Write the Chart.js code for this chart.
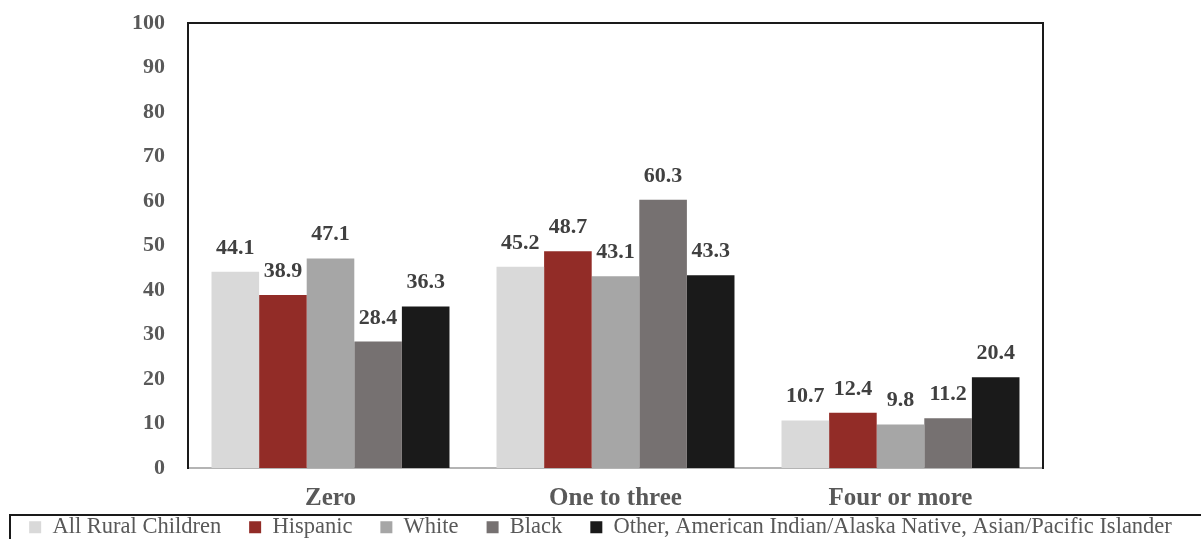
<!DOCTYPE html>
<html>
<head>
<meta charset="utf-8">
<script src="https://cdn.jsdelivr.net/npm/chart.js@4"></script>
<style>
  html, body { margin: 0; padding: 0; background: #fff; }
  #wrap { width: 1201px; height: 539px; }
</style>
</head>
<body>
<div id="wrap"><canvas id="myChart" width="1201" height="539"></canvas></div>
<script>
const categories = ['Zero', 'One to three', 'Four or more'];
const allRural = [44.1, 45.2, 10.7];
const hispanic = [38.9, 48.7, 12.4];
const white = [47.1, 43.1, 9.8];
const black = [28.4, 60.3, 11.2];
const other = [36.3, 43.3, 20.4];
const yTicks = [0, 10, 20, 30, 40, 50, 60, 70, 80, 90, 100];

const serif = "'Liberation Serif', 'Times New Roman', serif";
const legendPad = 28;

// value labels above each bar
const barLabels = {
    id: 'barLabels',
    afterDatasetsDraw(chart) {
        const ctx = chart.ctx;
        ctx.save();
        ctx.font = 'bold 22px ' + serif;
        ctx.fillStyle = '#404040';
        ctx.textAlign = 'center';
        ctx.textBaseline = 'alphabetic';
        chart.data.datasets.forEach((ds, i) => {
            chart.getDatasetMeta(i).data.forEach((bar, j) => {
                ctx.fillText(ds.data[j].toFixed(1), bar.x, bar.y - 18);
            });
        });
        ctx.restore();
    }
};

// legend: keep wide spacing between items but a short box
const tightLegend = {
    id: 'tightLegend',
    afterInit(chart) {
        const lg = chart.legend;
        const fit = lg.fit;
        const draw = lg.draw;
        lg.fit = function () {
            fit.call(this);
            this.height = 27;
        };
        lg.draw = function () {
            const top = this.top;
            this.top = top + 4 - legendPad;
            draw.call(this);
            this.top = top;
        };
    }
};

// top edge of plot frame + box round the legend
const frame = {
    id: 'frame',
    afterDraw(chart) {
        const ctx = chart.ctx;
        const a = chart.chartArea;
        ctx.save();
        ctx.strokeStyle = '#1a1a1a';
        ctx.lineWidth = 2;
        ctx.beginPath();
        ctx.moveTo(a.left, a.top);
        ctx.lineTo(a.right, a.top);
        ctx.stroke();
        ctx.strokeRect(10, chart.legend.top + 3, 1210, 40);
        ctx.restore();
    }
};

new Chart(document.getElementById('myChart').getContext('2d'), {
    type: 'bar',
    data: {
        labels: categories,
        datasets: [
            { label: 'All Rural Children', data: allRural, backgroundColor: '#d9d9d9' },
            { label: 'Hispanic', data: hispanic, backgroundColor: '#922c27' },
            { label: 'White', data: white, backgroundColor: '#a6a6a6' },
            { label: 'Black', data: black, backgroundColor: '#767171' },
            { label: 'Other, American Indian/Alaska Native, Asian/Pacific Islander', data: other, backgroundColor: '#1a1a1a' }
        ]
    },
    options: {
        responsive: false,
        animation: false,
        categoryPercentage: 0.835,
        barPercentage: 1.0,
        borderWidth: 0,
        layout: { padding: { top: 23, left: 0, right: 0, bottom: 0 } },
        scales: {
            x: {
                grid: { display: false, drawTicks: false },
                border: { display: true, color: '#b4b4b4', width: 2 },
                ticks: { font: { family: serif, size: 25, weight: 700 }, color: '#595959', padding: 16 },
                afterFit(scale) { scale.height = 44; }
            },
            y: {
                min: 0,
                max: 100,
                afterBuildTicks(scale) { scale.ticks = yTicks.map(v => ({ value: v })); },
                grid: { display: false, drawTicks: false },
                border: { display: true, color: '#1a1a1a', width: 2 },
                ticks: { font: { family: serif, size: 22, weight: 'bold' }, color: '#595959', padding: 23 },
                afterFit(scale) {
                    scale.width = 188;
                    scale.paddingTop = 0;
                    scale.paddingBottom = 0;
                }
            },
            y2: {
                position: 'right',
                min: 0,
                max: 100,
                grid: { display: false, drawTicks: false },
                border: { display: true, color: '#1a1a1a', width: 2 },
                ticks: { display: false },
                afterFit(scale) { scale.width = 158; }
            }
        },
        plugins: {
            legend: {
                position: 'bottom',
                labels: {
                    boxWidth: 12,
                    boxHeight: 12,
                    padding: legendPad,
                    color: '#595959',
                    font: { family: serif, size: 22.5 }
                }
            },
            tooltip: { enabled: false }
        }
    },
    plugins: [barLabels, tightLegend, frame]
});
</script>
</body>
</html>
